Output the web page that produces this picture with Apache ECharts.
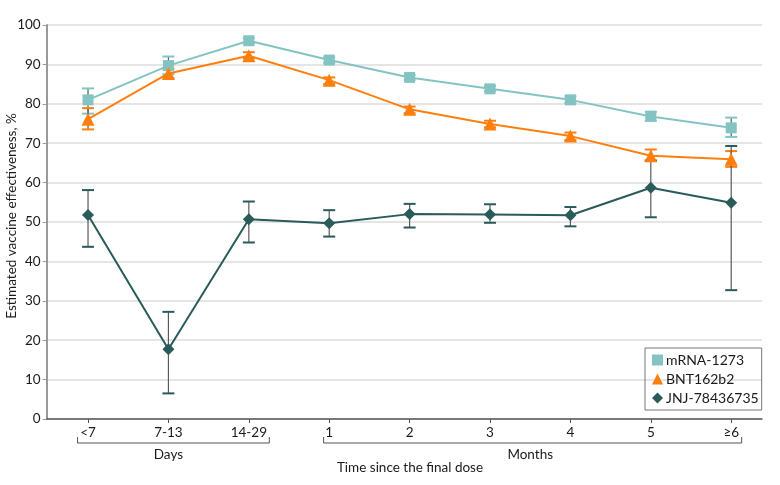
<!DOCTYPE html>
<html><head><meta charset="utf-8">
<script src="https://cdn.jsdelivr.net/npm/echarts@6/dist/echarts.min.js"></script>
<style>html,body{margin:0;padding:0;background:#fff}#c{width:780px;height:485px}</style>
</head><body><div id="c"></div>
<script>
const categories = ['<7', '7-13', '14-29', '1', '2', '3', '4', '5', '≥6'];
const yTicks = [0, 10, 20, 30, 40, 50, 60, 70, 80, 90, 100];
const mrna     = [81.0, 89.7, 96.0, 91.1, 86.7, 83.8, 81.0, 76.8, 73.9];
const mrnaLow  = [77.5, 87.5, 95.3, 90.4, 86.1, 83.2, 80.2, 75.7, 71.6];
const mrnaHigh = [83.9, 92.0, 96.7, 91.8, 87.3, 84.5, 81.9, 78.0, 76.5];
const bnt      = [76.1, 87.7, 92.2, 86.0, 78.6, 74.9, 71.8, 66.8, 65.9];
const bntLow   = [73.5, 86.5, 91.5, 85.0, 77.6, 74.0, 70.8, 65.7, 64.0];
const bntHigh  = [78.9, 88.8, 93.1, 86.7, 79.3, 75.7, 72.7, 68.4, 68.0];
const jnj      = [51.8, 17.7, 50.7, 49.7, 52.0, 51.9, 51.7, 58.7, 54.9];
const jnjLow   = [43.7, 6.5, 44.8, 46.3, 48.6, 49.8, 48.9, 51.2, 32.7];
const jnjHigh  = [58.1, 27.2, 55.2, 53.0, 54.6, 54.5, 53.8, 65.5, 69.3];
const groups = [{label: 'Days', from: 0, to: 2}, {label: 'Months', from: 3, to: 8}];
const yTitle = 'Estimated vaccine effectiveness, %';
const xTitle = 'Time since the final dose';

const FONT = 'Lato';
const FS = 13.5;
const TXT = '#1a1a1a';
const cTeal = '#83c4c2', cOrange = '#ff7f0e', cDark = '#285b59';
const idx = categories.map((_, i) => i);

function pts(v) { return v.map((y, i) => [i, y]); }
function errData(lo, hi) { return lo.map((l, i) => [i, l, hi[i]]); }
function errSeries(name, lo, hi, color) {
  return {
    type: 'custom', name: name + ' CI', z: 1, silent: true,
    data: errData(lo, hi),
    renderItem: function (params, api) {
      const x = api.value(0);
      const a = api.coord([x, api.value(1)]);
      const b = api.coord([x, api.value(2)]);
      const w = 6;
      return {type: 'group', children: [
        {type: 'line', shape: {x1: a[0], y1: a[1], x2: b[0], y2: b[1]}, style: {stroke: '#5a5a5a', lineWidth: 1.2}},
        {type: 'line', shape: {x1: a[0] - w, y1: a[1], x2: a[0] + w, y2: a[1]}, style: {stroke: color, lineWidth: 2}},
        {type: 'line', shape: {x1: b[0] - w, y1: b[1], x2: b[0] + w, y2: b[1]}, style: {stroke: color, lineWidth: 2}}
      ]};
    }
  };
}
function lineSeries(name, vals, color, symbol, size) {
  return {
    type: 'line', name: name, z: 3, data: pts(vals), symbol: symbol, symbolSize: size,
    itemStyle: {color: color}, lineStyle: {color: color, width: 2}, emphasis: {disabled: true}
  };
}

const chart = echarts.init(document.getElementById('c'));
chart.setOption({
  animation: false,
  textStyle: {fontFamily: FONT},
  grid: {left: 46.7, right: 18, top: 25, bottom: 66, containLabel: false, outerBoundsMode: 'none'},
  legend: {
    orient: 'vertical', left: 645, top: 348,
    itemWidth: 11, itemHeight: 11, itemGap: 5,
    borderColor: '#777', borderWidth: 1, padding: [5, 3, 5, 7],
    textStyle: {fontFamily: FONT, fontSize: 14, color: TXT, padding: [0, 0, 0, -2]},
    data: [{name: 'mRNA-1273', icon: 'rect'}, {name: 'BNT162b2', icon: 'triangle'}, {name: 'JNJ-78436735', icon: 'diamond'}]
  },
  xAxis: {
    type: 'value', min: -0.514, max: 8.383,
    axisLine: {show: true, onZero: false, lineStyle: {color: '#555', width: 1.5}},
    axisTick: {show: true, customValues: idx, length: 4, lineStyle: {color: '#555'}},
    axisLabel: {customValues: idx, formatter: v => categories[Math.round(v)], color: TXT, fontSize: FS, fontFamily: FONT, margin: 7},
    splitLine: {show: false}
  },
  yAxis: {
    type: 'value', min: 0, max: 100, interval: 10,
    axisLine: {show: true, onZero: false, lineStyle: {color: '#999', width: 2}},
    axisTick: {show: true, length: 4, lineStyle: {color: '#999'}},
    axisLabel: {color: TXT, fontSize: FS, fontFamily: FONT, margin: 6, formatter: v => yTicks.includes(v) ? String(v) : ''},
    splitLine: {show: true, lineStyle: {color: '#dcdcdc', width: 1.5}}
  },
  series: [
    errSeries('mRNA-1273', mrnaLow, mrnaHigh, cTeal),
    errSeries('BNT162b2', bntLow, bntHigh, cOrange),
    errSeries('JNJ-78436735', jnjLow, jnjHigh, cDark),
    lineSeries('mRNA-1273', mrna, cTeal, 'rect', 11),
    lineSeries('BNT162b2', bnt, cOrange, 'triangle', 13),
    lineSeries('JNJ-78436735', jnj, cDark, 'diamond', 12)
  ]
});

// Axis titles and bracket decorations, positioned through the axis scale
const yBar = 443, yEnd = 437;
const spans = [[-0.13, 2.255], [2.93, 8.13]];
const graphics = [];
groups.forEach((g, k) => {
  const x1 = chart.convertToPixel({xAxisIndex: 0}, spans[k][0]);
  const x2 = chart.convertToPixel({xAxisIndex: 0}, spans[k][1]);
  const mid = chart.convertToPixel({xAxisIndex: 0}, (g.from + g.to) / 2);
  graphics.push({type: 'polyline', silent: true, shape: {points: [[x1, yEnd], [x1, yBar], [x2, yBar], [x2, yEnd]]}, style: {stroke: '#555', lineWidth: 1, fill: null}});
  graphics.push({type: 'text', silent: true, x: mid, y: 455, style: {text: g.label, fontFamily: FONT, fontSize: FS, fill: TXT, align: 'center', verticalAlign: 'middle'}});
});
graphics.push({type: 'text', silent: true, x: 410, y: 468, style: {text: xTitle, fontFamily: FONT, fontSize: FS, fill: TXT, align: 'center', verticalAlign: 'middle'}});
graphics.push({type: 'text', silent: true, x: 12, y: 216, rotation: Math.PI / 2, style: {text: yTitle, fontFamily: FONT, fontSize: FS, fill: TXT, align: 'center', verticalAlign: 'middle'}});
chart.setOption({graphic: graphics});
</script></body></html>
